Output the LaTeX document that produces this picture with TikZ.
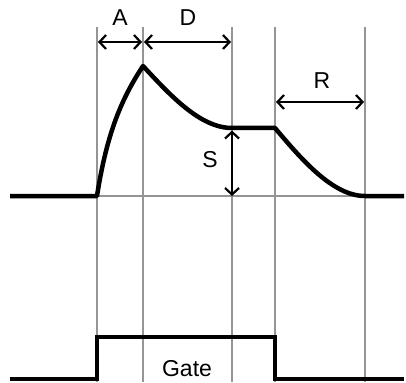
\documentclass[tikz,border=0pt]{standalone}
\usepackage{fontspec}
\setmainfont{Liberation Sans}
\definecolor{guide}{HTML}{959595}
\usetikzlibrary{arrows.meta}

\begin{document}
\begin{tikzpicture}[
        x=1pt, y=-1pt,
        guide_line/.style={draw=guide, line width=2pt},
        env_line/.style={draw=black, line width=4.5pt, line join=round},
        span_arrow/.style={{Straight Barb[length=6.5pt,width=14pt]}-{Straight Barb[length=6.5pt,width=14pt]}, draw=black, line width=2.2pt},
        label_node/.style={font=\fontsize{23}{27}\selectfont, inner sep=0pt}
    ]
    \useasboundingbox (0,0) rectangle (406,382);

    % Key points
    \coordinate (start) at (97,196);
    \coordinate (peak) at (143,66);
    \coordinate (sus) at (232,128);
    \coordinate (rel) at (275,128);
    \coordinate (stop) at (365,196);
    \coordinate (left) at (10,196);
    \coordinate (right) at (404,196);

    % Guide lines
    \foreach \gx in {97,143,232,275,365}
        \draw[guide_line] (\gx,27) -- (\gx,382);
    \draw[guide_line] (start) -- (stop);

    % Envelope
    \draw[env_line] (left) -- (start)
        .. controls (107,132) and (122,98) .. (peak)
        .. controls (170,95) and (200,128) .. (sus)
        -- (rel)
        .. controls (302,160) and (333,196) .. (stop)
        -- (right);

    % Spans
    \coordinate (a0) at (97,42);
    \coordinate (a1) at (143,42);
    \coordinate (d1) at (232,42);
    \coordinate (r0) at (275,102);
    \coordinate (r1) at (365,102);
    \coordinate (s0) at (232,196);
    \draw[span_arrow, shorten <=1pt, shorten >=1pt] (a0) -- (a1);
    \draw[span_arrow, shorten <=1pt, shorten >=1pt] (a1) -- (d1);
    \draw[span_arrow, shorten <=1pt, shorten >=1pt] (r0) -- (r1);
    \draw[span_arrow, shorten <=2.5pt, shorten >=0pt] (sus) -- (s0);

    \node[label_node] (lblA) at (120,18) {A};
    \node[label_node] (lblD) at (188,18) {D};
    \node[label_node] (lblR) at (322,81) {R};
    \node[label_node] (lblS) at (210,160) {S};

    % Gate
    \draw[env_line, line join=miter] (10,379) -- (97,379) -- (97,337) -- (275,337) -- (275,379) -- (404,379);
    \node[label_node] (lblGate) at (187,369) {Gate};

\end{tikzpicture}
\end{document}
